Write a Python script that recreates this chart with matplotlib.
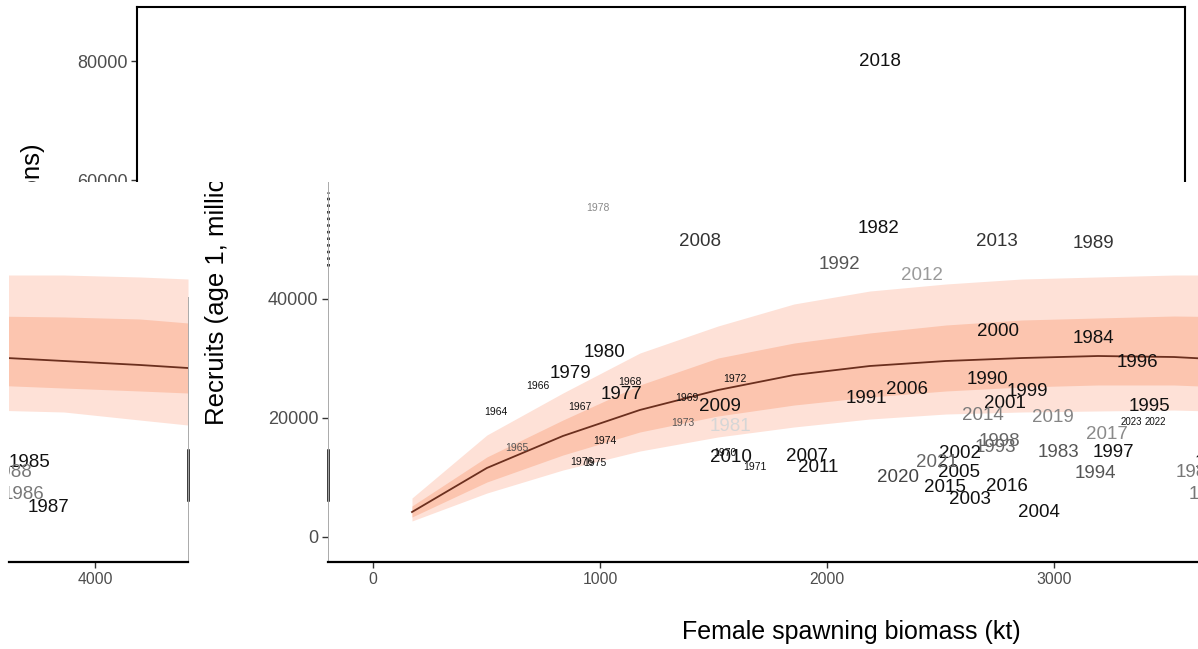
import matplotlib
matplotlib.use("Agg")
import matplotlib.pyplot as plt
from matplotlib.patches import Rectangle
from matplotlib.transforms import Bbox, TransformedBbox

plt.rcParams['font.family'] = ['Liberation Sans', 'DejaVu Sans']

# stock-recruit curve: median with 50% and 95% bands
ssb_grid = [172, 502, 837, 1176, 1520, 1855, 2189, 2524, 2859, 3194, 3529, 3863, 4198, 4410]
rec_med = [4200, 11600, 16980, 21350, 24700, 27230, 28740, 29580, 30080, 30420, 30250, 29580, 28910, 28400]
rec_lo50 = [3360, 9240, 13780, 17650, 20340, 22180, 23530, 24540, 25210, 25550, 25550, 25040, 24540, 24200]
rec_hi50 = [5210, 13450, 19660, 25550, 30080, 32600, 34290, 35630, 36470, 36810, 37140, 36980, 36640, 35970]
rec_lo95 = [2690, 7390, 11260, 14450, 16810, 18490, 19830, 20670, 21010, 21180, 21340, 21010, 19660, 18820]
rec_hi95 = [6550, 17140, 24200, 30920, 35460, 39160, 41340, 42520, 43360, 43700, 44030, 44030, 43700, 43360]

# yearly estimates (female spawning biomass kt, recruits millions)
years = list(range(1964, 2024))
ssb = [542, 634, 727, 912, 1132, 1383, 1551, 1683, 1595, 1366,
       1022, 978, 921, 1093, 991, 868, 1018, 1573, 2225, 3022,
       3172, 3712, 3687, 3797, 3630, 3176, 2705, 2172, 2057, 2740,
       3181, 3419, 3366, 3260, 2762, 2881, 2753, 2784, 2586, 2630,
       2934, 2581, 2352, 1912, 1441, 1529, 1577, 1960, 2419, 2749,
       2687, 2520, 2793, 3233, 2233, 2996, 2313, 2485, 3445, 3339]
rec = [21010, 14960, 25380, 21850, 26050, 23360, 14120, 11760, 26550, 19160,
       16130, 12440, 12610, 24030, 55290, 27560, 31090, 18490, 51930, 14120,
       33280, 12600, 7060, 5040, 10760, 49410, 26550, 23360, 45880, 14960,
       10590, 21850, 29410, 14120, 16130, 24370, 34620, 22520, 13950, 6220,
       4200, 10760, 24870, 13610, 49580, 21850, 13280, 11760, 44030, 49580,
       20500, 8240, 8570, 17310, 80000, 20000, 10080, 12440, 19330, 19330]

small_years = set(range(1964, 1977)) | {1978}
tiny_years = {2022, 2023}
label_grey = {1981: '#d6d6d6', 2012: '#9a9a9a', 2014: '#7a7a7a', 2019: '#858585',
              2017: '#8a8a8a', 1978: '#8a8a8a', 1992: '#555555', 1994: '#555555',
              1983: '#555555', 2013: '#333333', 1989: '#333333', 2008: '#333333',
              2020: '#444444', 2021: '#666666', 1998: '#666666', 1993: '#666666',
              1988: '#777777', 1986: '#777777', 1973: '#555555', 1965: '#555555'}

W, H = 1198, 649
YLIM = (-4202, 89076)
fig = plt.figure(figsize=(W / 100, H / 100), dpi=100)


def draw_sr(a):
    a.fill_between(ssb_grid, rec_lo95, rec_hi95, color='#fee1d7', lw=0)
    a.fill_between(ssb_grid, rec_lo50, rec_hi50, color='#fcc5af', lw=0)
    a.plot(ssb_grid, rec_med, color='#6b2f1e', lw=1.3)
    for yr, x, y in zip(years, ssb, rec):
        fs = 7.5 if yr in small_years else (7 if yr in tiny_years else 13.5)
        a.text(x, y, str(yr), ha='center', va='center', fontsize=fs,
               color=label_grey.get(yr, '#111111'), clip_on=True)


def style_ticks(a):
    a.tick_params(length=4, width=1, color='#333333', labelcolor='#4d4d4d', pad=3)
    a.tick_params(axis='x', labelsize=11.3)
    a.tick_params(axis='y', labelsize=13)


# background frame (only its upper part stays visible)
bg = fig.add_axes([137 / W, 1 - 562 / H, (1185 - 137) / W, (562 - 7) / H])
bg.set_zorder(0)
bg.set_xlim(-1040, 3577)
bg.set_ylim(*YLIM)
draw_sr(bg)
bg.set_xticks([])
bg.set_yticks([60000, 80000])
style_ticks(bg)
for s in bg.spines.values():
    s.set_linewidth(1.5)
fig.text(33 / W, 1 - 143 / H, 'Recruits (age 1, millions)', rotation=90,
         ha='center', va='top', fontsize=18.5, color='black', zorder=0.5)

# white cover for lower part
fig.add_artist(Rectangle((0, 0), 1, 1 - 182 / H, transform=fig.transFigure,
                         facecolor='white', edgecolor='none', zorder=1))
lower_box = TransformedBbox(Bbox([[0, 0], [1, 1 - 182 / H]]), fig.transFigure)

# main panel
ax = fig.add_axes([328 / W, 1 - 562 / H, (1374 - 328) / W, (562 - 182) / H])
ax.set_zorder(2)
ax.patch.set_visible(False)
ax.set_xlim(-198, 4410)
ax.set_ylim(YLIM[0], 59664)
draw_sr(ax)
ax.set_xticks([0, 1000, 2000, 3000, 4000])
ax.set_yticks([0, 20000, 40000])
style_ticks(ax)
ax.spines['top'].set_visible(False)
ax.spines['right'].set_visible(False)
ax.spines['bottom'].set_linewidth(1.6)
ax.spines['left'].set_color('#aaaaaa')
ax.spines['left'].set_linewidth(0.7)
ax.axvline(-198, ymin=0.163, ymax=0.295, color='black', lw=1.8, clip_on=False)
ax.axvline(-198, ymin=0.78, ymax=0.975, color='black', lw=1.8, ls=':', clip_on=False)

# wrapped right end of the panel
ins = fig.add_axes([9 / W, 1 - 562 / H, (188 - 9) / W, (562 - 182) / H])
ins.set_zorder(2)
ins.patch.set_visible(False)
ins.set_xlim(3621, 4410)
ins.set_ylim(YLIM[0], 59664)
draw_sr(ins)
ins.set_xticks([4000])
ins.set_yticks([])
style_ticks(ins)
ins.spines['top'].set_visible(False)
ins.spines['left'].set_visible(False)
ins.spines['bottom'].set_linewidth(1.6)
ins.spines['right'].set_color('#aaaaaa')
ins.spines['right'].set_linewidth(0.7)
ins.spines['right'].set_bounds(YLIM[0], 40340)
ins.axvline(4410, ymin=0.163, ymax=0.295, color='black', lw=1.8, clip_on=False)

fig.text(851 / W, 1 - 632 / H, 'Female spawning biomass (kt)', ha='center',
         va='center', fontsize=18, color='black')
ylab = fig.text(217 / W, 1 - 425 / H, 'Recruits (age 1, millions)', rotation=90,
                ha='center', va='bottom', fontsize=18.5, color='black', zorder=3)
ylab.set_clip_box(lower_box)
ylab.set_clip_on(True)

fig.savefig('out.png', dpi=100)
